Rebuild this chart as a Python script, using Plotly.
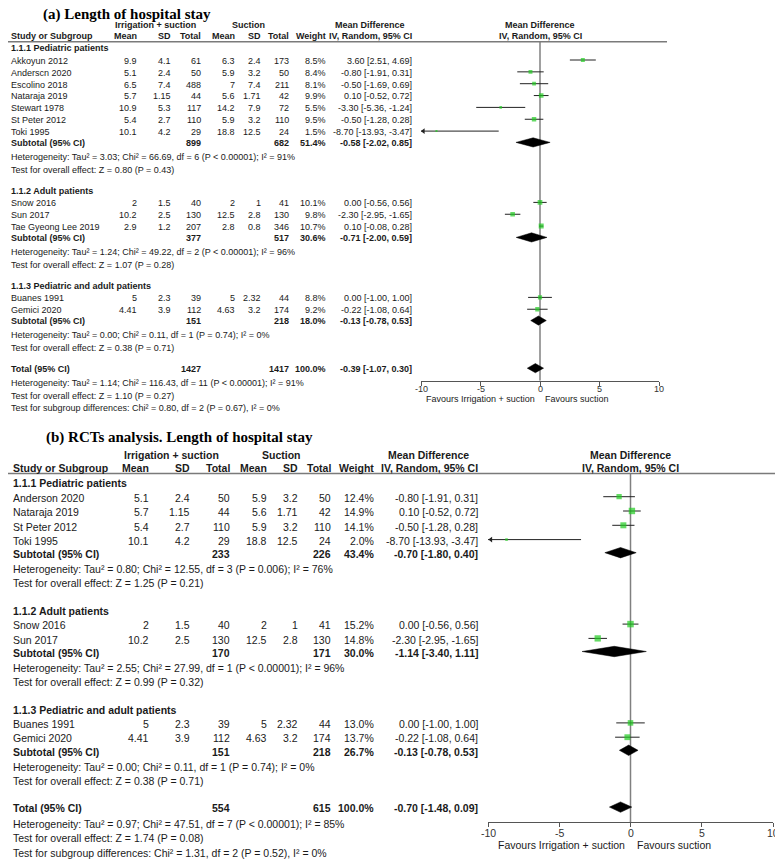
import plotly.graph_objects as go

W, H = 783, 859
OFF = 8  # page body margin compensation (px)
FIG_W, FIG_H = W - OFF, H - OFF
SANS = "Liberation Sans, Arial, sans-serif"
SERIF = "Liberation Serif, Times New Roman, serif"
TXT = "#1a1a1a"
GREEN = "#22cc22"

# ===================== Panel (a) data =====================
a_groups = ["1.1.1 Pediatric patients", "1.1.2 Adult patients", "1.1.3 Pediatric and adult patients"]
a_group_size = [7, 3, 2]
a_study = ["Akkoyun 2012", "Anderscn 2020", "Escolino 2018", "Nataraja 2019", "Stewart 1978",
           "St Peter 2012", "Toki 1995", "Snow 2016", "Sun 2017", "Tae Gyeong Lee 2019",
           "Buanes 1991", "Gemici 2020"]
a_irr_mean = [9.9, 5.1, 6.5, 5.7, 10.9, 5.4, 10.1, 2, 10.2, 2.9, 5, 4.41]
a_irr_sd = [4.1, 2.4, 7.4, 1.15, 5.3, 2.7, 4.2, 1.5, 2.5, 1.2, 2.3, 3.9]
a_irr_n = [61, 50, 488, 44, 117, 110, 29, 40, 130, 207, 39, 112]
a_suc_mean = [6.3, 5.9, 7, 5.6, 14.2, 5.9, 18.8, 2, 12.5, 2.8, 5, 4.63]
a_suc_sd = [2.4, 3.2, 7.4, 1.71, 7.9, 3.2, 12.5, 1, 2.8, 0.8, 2.32, 3.2]
a_suc_n = [173, 50, 211, 42, 72, 110, 24, 41, 130, 346, 44, 174]
a_weight = [8.5, 8.4, 8.1, 9.9, 5.5, 9.5, 1.5, 10.1, 9.8, 10.7, 8.8, 9.2]
a_md = [3.60, -0.80, -0.50, 0.10, -3.30, -0.50, -8.70, 0.00, -2.30, 0.10, 0.00, -0.22]
a_lo = [2.51, -1.91, -1.69, -0.52, -5.36, -1.28, -13.93, -0.56, -2.95, -0.08, -1.00, -1.08]
a_hi = [4.69, 0.31, 0.69, 0.72, -1.24, 0.28, -3.47, 0.56, -1.65, 0.28, 1.00, 0.64]
a_sub_irr_n = [899, 377, 151]
a_sub_suc_n = [682, 517, 218]
a_sub_weight = [51.4, 30.6, 18.0]
a_sub_md = [-0.58, -0.71, -0.13]
a_sub_lo = [-2.02, -2.00, -0.78]
a_sub_hi = [0.85, 0.59, 0.53]
a_het_tau2 = [3.03, 1.24, 0.00]
a_het_chi2 = [66.69, 49.22, 0.11]
a_het_df = [6, 2, 1]
a_het_p = ["< 0.00001", "< 0.00001", "= 0.74"]
a_het_i2 = [91, 96, 0]
a_z = [0.80, 1.07, 0.38]
a_z_p = [0.43, 0.28, 0.71]
a_total_n = [1427, 1417]
a_total_weight = 100.0
a_total_ci = [-0.39, -1.07, 0.30]
a_total_het = [1.14, 116.43, 11, "< 0.00001", 91]
a_total_z = [1.10, 0.27]
a_subgroup_diff = [0.80, 2, 0.67, 0]

# ===================== Panel (b) data =====================
b_groups = ["1.1.1 Pediatric patients", "1.1.2 Adult patients", "1.1.3 Pediatric and adult patients"]
b_group_size = [4, 2, 2]
b_study = ["Anderson 2020", "Nataraja 2019", "St Peter 2012", "Toki 1995",
           "Snow 2016", "Sun 2017", "Buanes 1991", "Gemici 2020"]
b_irr_mean = [5.1, 5.7, 5.4, 10.1, 2, 10.2, 5, 4.41]
b_irr_sd = [2.4, 1.15, 2.7, 4.2, 1.5, 2.5, 2.3, 3.9]
b_irr_n = [50, 44, 110, 29, 40, 130, 39, 112]
b_suc_mean = [5.9, 5.6, 5.9, 18.8, 2, 12.5, 5, 4.63]
b_suc_sd = [3.2, 1.71, 3.2, 12.5, 1, 2.8, 2.32, 3.2]
b_suc_n = [50, 42, 110, 24, 41, 130, 44, 174]
b_weight = [12.4, 14.9, 14.1, 2.0, 15.2, 14.8, 13.0, 13.7]
b_md = [-0.80, 0.10, -0.50, -8.70, 0.00, -2.30, 0.00, -0.22]
b_lo = [-1.91, -0.52, -1.28, -13.93, -0.56, -2.95, -1.00, -1.08]
b_hi = [0.31, 0.72, 0.28, -3.47, 0.56, -1.65, 1.00, 0.64]
b_sub_irr_n = [233, 170, 151]
b_sub_suc_n = [226, 171, 218]
b_sub_weight = [43.4, 30.0, 26.7]
b_sub_md = [-0.70, -1.14, -0.13]
b_sub_lo = [-1.80, -3.40, -0.78]
b_sub_hi = [0.40, 1.11, 0.53]
b_het_tau2 = [0.80, 2.55, 0.00]
b_het_chi2 = [12.55, 27.99, 0.11]
b_het_df = [3, 1, 1]
b_het_p = ["= 0.006", "< 0.00001", "= 0.74"]
b_het_i2 = [76, 96, 0]
b_z = [1.25, 0.99, 0.38]
b_z_p = [0.21, 0.32, 0.71]
b_total_n = [554, 615]
b_total_weight = 100.0
b_total_ci = [-0.70, -1.48, 0.09]
b_total_het = [0.97, 47.51, 7, "< 0.00001", 85]
b_total_z = [1.74, 0.08]
b_subgroup_diff = [1.31, 2, 0.52, 0]

tick_vals = [-10, -5, 0, 5, 10]
tick_text = ["-10", "-5", "0", "5", "10"]

PANEL_A = dict(
    title="(a) Length of hospital stay", title_xy=(42, 14.6), title_size=15,
    font=9.0, study_x=10, cols=[138, 172, 202, 236, 262, 290, 327, 413],
    grp_hdr=[(155, "Irrigation + suction"), (248, "Suction")], md_hdr_x=370,
    hdr_y=(25.3, 36), line_y=41.7, line_x=(5, 667),
    xdom=(421, 659), ybottom=380.7,
    first=47.6, head_study=12.4, pitch=11.85, study_sub=11.3, sub_het=14,
    het_test=12.6, test_head=21, total_het=14, text_dy=0.8,
    sq_max=5.0, sq_min=2.0, dia_h=4.6, fav_y=399, fav_gap=4, tick_size=9.0, tick_dy=8.5,
    xaxis="x", yaxis="y",
)
PANEL_B = dict(
    title="(b) RCTs analysis. Length of hospital stay", title_xy=(45, 437), title_size=15,
    font=10.5, study_x=12, cols=[150, 191, 231, 268, 299, 332, 375, 479],
    grp_hdr=[(171, "Irrigation + suction"), (281, "Suction")], md_hdr_x=428,
    hdr_y=(455, 468), line_y=473.5, line_x=(5, 783),
    xdom=(488, 773), ybottom=822,
    first=482.1, head_study=14.6, pitch=14.3, study_sub=13.1, sub_het=15,
    het_test=14.5, test_head=27.3, total_het=15.5, text_dy=1.2,
    sq_max=6.5, sq_min=2.6, dia_h=5.2, fav_y=844.5, fav_gap=5, tick_size=10.5, tick_dy=10.5,
    xaxis="x2", yaxis="y2",
)

annotations = []
shapes = []
traces = []


def fx(px):
    return (px - OFF) / FIG_W


def fy(py):
    return 1 - (py - OFF) / FIG_H


def txt(x, y, s, anchor="left", size=9, bold=False, family=SANS, color=TXT):
    annotations.append(dict(
        x=fx(x), y=fy(y), xref="paper", yref="paper",
        text=f"<b>{s}</b>" if bold else s, showarrow=False,
        xanchor=anchor, yanchor="middle", borderpad=0,
        font=dict(size=size, family=family, color=color)))


def ci_str(md, lo, hi):
    return f"{md:.2f} [{lo:.2f}, {hi:.2f}]"


def build(P, groups, sizes, study, im, isd, inn, sm, ssd, sn, wt, md, lo, hi,
          sub_in, sub_sn, sub_w, sub_md, sub_lo, sub_hi,
          h_tau, h_chi, h_df, h_p, h_i2, z, zp,
          tot_n, tot_w, tot_ci, tot_het, tot_z, sgd):
    fs = P["font"]
    c = P["cols"]
    dy = P["text_dy"]
    x0px, x1px = P["xdom"]
    zero_px = x0px + (0 - (-10)) / 20 * (x1px - x0px)

    # title
    tx, ty = P["title_xy"]
    txt(tx, ty, P["title"], size=P["title_size"], bold=True, family=SERIF, color="#000")
    # headers
    r1, r2 = P["hdr_y"]
    for cx, s in P["grp_hdr"]:
        txt(cx, r1, s, anchor="center", size=fs, bold=True)
    txt(P["md_hdr_x"], r1, "Mean Difference", anchor="center", size=fs, bold=True)
    txt(zero_px, r1, "Mean Difference", anchor="center", size=fs, bold=True)
    txt(P["study_x"], r2, "Study or Subgroup", size=fs, bold=True)
    for cx, s in zip(c, ["Mean", "SD", "Total", "Mean", "SD", "Total", "Weight", "IV, Random, 95% CI"]):
        txt(cx, r2, s, anchor="right", size=fs, bold=True)
    txt(zero_px, r2, "IV, Random, 95% CI", anchor="center", size=fs, bold=True)
    shapes.append(dict(type="line", xref="paper", yref="paper",
                       x0=max(0, fx(P["line_x"][0])), x1=min(1, fx(P["line_x"][1])),
                       y0=fy(P["line_y"]), y1=fy(P["line_y"]),
                       line=dict(color="#7a7a7a", width=1.5)))

    # row layout
    study_y = []
    sub_y = []
    y = P["first"]
    k = 0
    for g, n in enumerate(sizes):
        if g > 0:
            y += P["test_head"]
        txt(P["study_x"], y + dy, groups[g], size=fs, bold=True)
        y += P["head_study"]
        for i in range(n):
            if i > 0:
                y += P["pitch"]
            study_y.append(y)
            vals = [im[k], isd[k], inn[k], sm[k], ssd[k], sn[k], f"{wt[k]:.1f}%", ci_str(md[k], lo[k], hi[k])]
            txt(P["study_x"], y + dy, study[k], size=fs)
            for cx, v in zip(c, vals):
                txt(cx, y + dy, str(v), anchor="right", size=fs)
            k += 1
        y += P["study_sub"]
        sub_y.append(y)
        txt(P["study_x"], y + dy, "Subtotal (95% CI)", size=fs, bold=True)
        txt(c[2], y + dy, str(sub_in[g]), anchor="right", size=fs, bold=True)
        txt(c[5], y + dy, str(sub_sn[g]), anchor="right", size=fs, bold=True)
        txt(c[6], y + dy, f"{sub_w[g]:.1f}%", anchor="right", size=fs, bold=True)
        txt(c[7], y + dy, ci_str(sub_md[g], sub_lo[g], sub_hi[g]), anchor="right", size=fs, bold=True)
        y += P["sub_het"]
        txt(P["study_x"], y + dy,
            f"Heterogeneity: Tau² = {h_tau[g]:.2f}; Chi² = {h_chi[g]:.2f}, df = {h_df[g]} (P {h_p[g]}); I² = {h_i2[g]}%",
            size=fs)
        y += P["het_test"]
        txt(P["study_x"], y + dy, f"Test for overall effect: Z = {z[g]:.2f} (P = {zp[g]:.2f})", size=fs)
    y += P["test_head"]
    total_y = y
    txt(P["study_x"], y + dy, "Total (95% CI)", size=fs, bold=True)
    txt(c[2], y + dy, str(tot_n[0]), anchor="right", size=fs, bold=True)
    txt(c[5], y + dy, str(tot_n[1]), anchor="right", size=fs, bold=True)
    txt(c[6], y + dy, f"{tot_w:.1f}%", anchor="right", size=fs, bold=True)
    txt(c[7], y + dy, ci_str(*tot_ci), anchor="right", size=fs, bold=True)
    y += P["total_het"]
    t, ch, df, p, i2 = tot_het
    txt(P["study_x"], y + dy,
        f"Heterogeneity: Tau² = {t:.2f}; Chi² = {ch:.2f}, df = {df} (P {p}); I² = {i2}%", size=fs)
    y += P["het_test"]
    txt(P["study_x"], y + dy, f"Test for overall effect: Z = {tot_z[0]:.2f} (P = {tot_z[1]:.2f})", size=fs)
    y += P["het_test"]
    txt(P["study_x"], y + dy,
        f"Test for subgroup differences: Chi² = {sgd[0]:.2f}, df = {sgd[1]} (P = {sgd[2]:.2f}), I² = {sgd[3]}%",
        size=fs)

    # favours labels
    txt(zero_px - P["fav_gap"], P["fav_y"], "Favours Irrigation + suction", anchor="right", size=fs)
    txt(zero_px + P["fav_gap"], P["fav_y"], "Favours suction", anchor="left", size=fs)

    xa, ya = P["xaxis"], P["yaxis"]
    # tick labels placed through the x axis scale
    for tv, tt in zip(tick_vals, tick_text):
        annotations.append(dict(x=tv, y=fy(P["ybottom"] + P["tick_dy"]), xref=xa, yref="paper",
                                text=tt, showarrow=False, xanchor="center", yanchor="middle",
                                borderpad=0, font=dict(size=P["tick_size"], family=SANS, color="#333")))
    # zero line
    traces.append(go.Scatter(x=[0, 0], y=[P["line_y"], P["ybottom"]], mode="lines",
                             line=dict(color="#808080", width=1.5), xaxis=xa, yaxis=ya,
                             hoverinfo="skip"))
    # CI lines (clamped to axis range, with arrow when truncated)
    lx, ly, ax_, ay_ = [], [], [], []
    for m, l, h, yy in zip(md, lo, hi, study_y):
        ll = max(l, -10)
        hh = min(h, 10)
        lx += [ll, hh, None]
        ly += [yy, yy, None]
        if l < -10:
            ax_.append(-9.8)
            ay_.append(yy)
    traces.append(go.Scatter(x=lx, y=ly, mode="lines", line=dict(color="#222", width=1),
                             xaxis=xa, yaxis=ya, hoverinfo="skip"))
    traces.append(go.Scatter(x=ax_, y=ay_, mode="markers",
                             marker=dict(symbol="triangle-left", size=5, color="#222"),
                             xaxis=xa, yaxis=ya, hoverinfo="skip"))
    # squares
    wmax = max(wt)
    sizes_px = [max(P["sq_min"], P["sq_max"] * w / wmax) for w in wt]
    traces.append(go.Scatter(x=md, y=study_y, mode="markers",
                             marker=dict(symbol="square", size=sizes_px, color=GREEN, line=dict(width=0)),
                             xaxis=xa, yaxis=ya, hoverinfo="skip"))
    # diamonds
    dx, dyy = [], []
    hh = P["dia_h"]
    for m, l, h, yy in list(zip(sub_md, sub_lo, sub_hi, sub_y)) + [(tot_ci[0], tot_ci[1], tot_ci[2], total_y)]:
        dx += [l, m, h, m, l, None]
        dyy += [yy, yy - hh, yy, yy + hh, yy, None]
    traces.append(go.Scatter(x=dx, y=dyy, mode="lines", fill="toself", fillcolor="#000",
                             line=dict(color="#000", width=0.5), xaxis=xa, yaxis=ya,
                             hoverinfo="skip"))


build(PANEL_A, a_groups, a_group_size, a_study, a_irr_mean, a_irr_sd, a_irr_n, a_suc_mean,
      a_suc_sd, a_suc_n, a_weight, a_md, a_lo, a_hi, a_sub_irr_n, a_sub_suc_n, a_sub_weight,
      a_sub_md, a_sub_lo, a_sub_hi, a_het_tau2, a_het_chi2, a_het_df, a_het_p, a_het_i2,
      a_z, a_z_p, a_total_n, a_total_weight, a_total_ci, a_total_het, a_total_z, a_subgroup_diff)
build(PANEL_B, b_groups, b_group_size, b_study, b_irr_mean, b_irr_sd, b_irr_n, b_suc_mean,
      b_suc_sd, b_suc_n, b_weight, b_md, b_lo, b_hi, b_sub_irr_n, b_sub_suc_n, b_sub_weight,
      b_sub_md, b_sub_lo, b_sub_hi, b_het_tau2, b_het_chi2, b_het_df, b_het_p, b_het_i2,
      b_z, b_z_p, b_total_n, b_total_weight, b_total_ci, b_total_het, b_total_z, b_subgroup_diff)

fig = go.Figure(traces)


def xaxis_cfg(P):
    return dict(domain=[fx(P["xdom"][0]), fx(P["xdom"][1])], range=[-10, 10],
                anchor=P["yaxis"], tickvals=tick_vals, showticklabels=False,
                showline=True, linecolor="#555", linewidth=1.3, ticks="outside",
                ticklen=4, tickcolor="#555", tickwidth=1.2, showgrid=False, zeroline=False,
                fixedrange=True)


def yaxis_cfg(P):
    return dict(domain=[fy(P["ybottom"]), fy(P["line_y"])],
                range=[P["ybottom"], P["line_y"]], anchor=P["xaxis"], visible=False,
                showgrid=False, zeroline=False, fixedrange=True)


fig.update_layout(
    width=FIG_W, height=FIG_H, margin=dict(l=0, r=0, t=0, b=0),
    paper_bgcolor="white", plot_bgcolor="white", showlegend=False,
    xaxis=xaxis_cfg(PANEL_A), yaxis=yaxis_cfg(PANEL_A),
    xaxis2=xaxis_cfg(PANEL_B), yaxis2=yaxis_cfg(PANEL_B),
    annotations=annotations, shapes=shapes,
)

fig.write_html("out.html")
